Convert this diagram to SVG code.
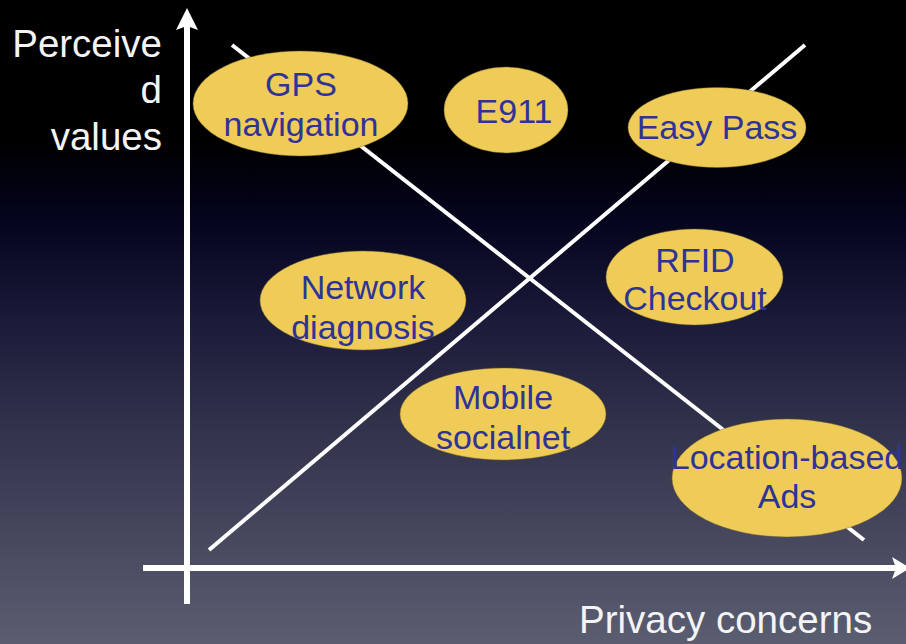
<svg xmlns="http://www.w3.org/2000/svg" width="906" height="644" viewBox="0 0 906 644">
  <defs>
    <linearGradient id="bg" x1="0" y1="0" x2="0" y2="1">
      <stop offset="0" stop-color="#000000"/>
      <stop offset="0.22" stop-color="#000000"/>
      <stop offset="0.34" stop-color="#04041e"/>
      <stop offset="0.5" stop-color="#1b1b3a"/>
      <stop offset="0.7" stop-color="#36374f"/>
      <stop offset="1" stop-color="#5b5d71"/>
    </linearGradient>
  </defs>
  <style>
    .axis { stroke: #ffffff; stroke-width: 6; fill: none; }
    .diag { stroke: #ffffff; stroke-width: 4; fill: none; }
    .head { fill: #ffffff; }
    .bubble { fill: #efcb58; stroke: #7a6a2a; stroke-width: 0.8; stroke-opacity: 0.6; }
    .lbl { font-family: "Liberation Sans", Arial, sans-serif; font-size: 34px; fill: #2f3397; text-anchor: middle; }
    .axlbl { font-family: "Liberation Sans", Arial, sans-serif; font-size: 38.5px; fill: #f4f4f4; }
  </style>

  <rect x="0" y="0" width="906" height="644" fill="url(#bg)"/>

  <g id="connectors">
    <!-- axes -->
    <line class="axis" x1="187" y1="604" x2="187" y2="26"/>
    <path class="head" d="M187,8 L198,30 L187,26 L176,30 Z"/>
    <line class="axis" x1="143" y1="568" x2="896" y2="568"/>
    <path class="head" d="M910,568 L892,557 L896,568 L892,579 Z"/>
    <!-- trend lines -->
    <line class="diag" x1="232" y1="45" x2="864" y2="540"/>
    <line class="diag" x1="209" y1="550" x2="805" y2="45"/>
  </g>

  <g id="axis-y-label">
    <text class="axlbl" text-anchor="end" x="162" y="57">Perceive</text>
    <text class="axlbl" text-anchor="end" x="162" y="103">d</text>
    <text class="axlbl" text-anchor="end" x="162" y="150">values</text>
  </g>
  <g id="axis-x-label">
    <text class="axlbl" x="579" y="633">Privacy concerns</text>
  </g>

  <g id="gps">
    <ellipse class="bubble" cx="300.5" cy="103.5" rx="107.5" ry="52.5"/>
    <text class="lbl" x="301" y="96">GPS</text>
    <text class="lbl" x="301" y="136">navigation</text>
  </g>
  <g id="e911">
    <ellipse class="bubble" cx="506" cy="110" rx="62" ry="43"/>
    <text class="lbl" x="514" y="123">E911</text>
  </g>
  <g id="easypass">
    <ellipse class="bubble" cx="717" cy="127.5" rx="89" ry="40"/>
    <text class="lbl" x="717" y="139">Easy Pass</text>
  </g>
  <g id="rfid">
    <ellipse class="bubble" cx="694.5" cy="277" rx="88.5" ry="48"/>
    <text class="lbl" x="695" y="272">RFID</text>
    <text class="lbl" x="695" y="310">Checkout</text>
  </g>
  <g id="network">
    <ellipse class="bubble" cx="363" cy="300.5" rx="103" ry="49.5"/>
    <text class="lbl" x="363" y="299">Network</text>
    <text class="lbl" x="363" y="339">diagnosis</text>
  </g>
  <g id="mobile">
    <ellipse class="bubble" cx="503" cy="414" rx="103" ry="46"/>
    <text class="lbl" x="503" y="409">Mobile</text>
    <text class="lbl" x="503" y="449">socialnet</text>
  </g>
  <g id="location">
    <ellipse class="bubble" cx="787" cy="478" rx="115" ry="59"/>
    <text class="lbl" x="787" y="469">Location-based</text>
    <text class="lbl" x="787" y="508">Ads</text>
  </g>
</svg>
